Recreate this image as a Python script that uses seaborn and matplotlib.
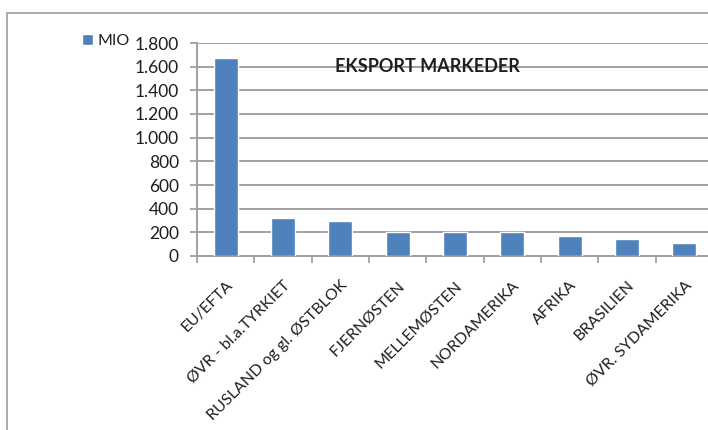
import numpy as np
import pandas as pd
import seaborn as sns
import matplotlib.pyplot as plt
from matplotlib.patches import Rectangle

# Export markets, values in MIO
markets = ['EU/EFTA', 'ØVR - bl.a.TYRKIET', 'RUSLAND og gl. ØSTBLOK',
           'FJERNØSTEN', 'MELLEMØSTEN', 'NORDAMERIKA', 'AFRIKA',
           'BRASILIEN', 'ØVR. SYDAMERIKA']
mio = [1670, 318, 296, 205, 205, 200, 169, 144, 107]
yticks = [0, 200, 400, 600, 800, 1000, 1200, 1400, 1600, 1800]
ytick_labels = ['0', '200', '400', '600', '800', '1.000', '1.200',
                '1.400', '1.600', '1.800']

df = pd.DataFrame({'market': markets, 'MIO': mio})

sns.set_theme(style='white')
plt.rcParams['font.family'] = ['Lato', 'DejaVu Sans']

W, H = 708, 430
fig = plt.figure(figsize=(W / 100, H / 100), dpi=100)
ax = fig.add_axes([197 / W, 1 - 256 / H, (713 - 197) / W, (256 - 43) / H])

grid_col = '#a0a0a0'
txt_col = '#1e1e1e'
sns.barplot(data=df, x='market', y='MIO', color='#4f81bd', width=0.42,
            saturation=1, ax=ax, zorder=3)

ax.set_ylim(0, 1800)
ax.set_xlim(-0.5, len(markets) - 0.5)
ax.set_yticks(yticks)
ax.set_yticklabels(ytick_labels)
ax.yaxis.grid(True, color=grid_col, lw=1.4, zorder=0)
ax.set_axisbelow(True)
ax.set_xlabel('')
ax.set_ylabel('')

# category boundary ticks like the original
ax.set_xticks(np.arange(len(markets) + 1) - 0.5, minor=True)
ax.set_xticks(np.arange(len(markets)))
ax.set_xticklabels(markets, rotation=45, ha='right', rotation_mode='anchor',
                   fontsize=11.4, color=txt_col)
ax.tick_params(axis='x', which='major', length=0, pad=16)
ax.tick_params(axis='x', which='minor', length=5, color=grid_col, width=1.3,
               bottom=True)
ax.tick_params(axis='y', length=5, color=grid_col, width=1.3, left=True,
               labelsize=12.5, pad=8, labelcolor=txt_col)

for side in ['top', 'right']:
    ax.spines[side].set_visible(False)
for side in ['left', 'bottom']:
    ax.spines[side].set_color(grid_col)
    ax.spines[side].set_linewidth(1.4)

fig.text(427 / W, 1 - 67 / H, 'EKSPORT MARKEDER', ha='center', va='center',
         fontsize=13, fontweight='bold', color=txt_col)

leg = fig.legend(handles=ax.patches[:1], labels=['MIO'], loc='upper left',
                 bbox_to_anchor=(82 / W, 1 - 34 / H), frameon=False,
                 handlelength=0.7, handleheight=0.7, handletextpad=0.3,
                 borderpad=0, borderaxespad=0, fontsize=11.5)
for t in leg.get_texts():
    t.set_color(txt_col)

# outer chart border (cropped on right and bottom)
fig.patches.append(Rectangle((7 / W, -0.05), 1.0, 1 - 13 / H + 0.05,
                             transform=fig.transFigure, fill=False,
                             edgecolor='#a6a6a6', lw=1.3))

fig.savefig('out.png', dpi=100)
